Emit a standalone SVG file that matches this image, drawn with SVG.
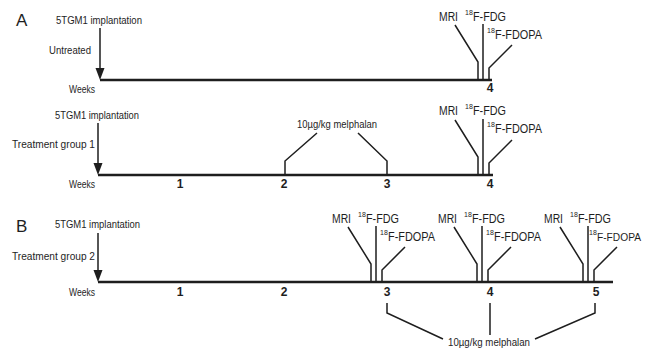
<svg xmlns="http://www.w3.org/2000/svg" width="647" height="354" viewBox="0 0 647 354">
<style>
  text { font-family: "Liberation Sans", Arial, sans-serif; fill: #1e1e1e; }
  .lbl { font-size: 11px; }
  .wk { font-size: 10px; }
  .num { font-size: 12px; font-weight: bold; text-anchor: middle; }
  .panel { font-size: 17px; }
  .img { font-size: 12px; }
  .sup { font-size: 7px; }
  .axis { stroke: #1e1e1e; stroke-width: 2.6; fill: none; }
  .ln { stroke: #1e1e1e; stroke-width: 1.5; fill: none; }
  .head { fill: #1e1e1e; }
</style>
<defs>
  <g id="cluster">
    <polyline class="ln" points="-28,-55 -5,-18 -5,0"/>
    <line class="ln" x1="0" y1="-56" x2="0" y2="0"/>
    <polyline class="ln" points="29,-35 6,-12 6,0"/>
  </g>
</defs>

<g id="panel-A-untreated">
  <text class="panel" x="16" y="26">A</text>
  <text class="lbl" x="56" y="24" textLength="86" lengthAdjust="spacingAndGlyphs">5TGM1 implantation</text>
  <text class="lbl" x="49" y="54" textLength="42" lengthAdjust="spacingAndGlyphs">Untreated</text>
  <text class="wk" x="69" y="93" textLength="26" lengthAdjust="spacingAndGlyphs">Weeks</text>
  <text class="num" x="490" y="92">4</text>
</g>

<g id="panel-A-group1">
  <text class="lbl" x="55" y="119" textLength="84" lengthAdjust="spacingAndGlyphs">5TGM1 implantation</text>
  <text class="lbl" x="12" y="148" textLength="83" lengthAdjust="spacingAndGlyphs">Treatment group 1</text>
  <text class="wk" x="69" y="188" textLength="26" lengthAdjust="spacingAndGlyphs">Weeks</text>
  <text class="num" x="180" y="188">1</text>
  <text class="num" x="284" y="188">2</text>
  <text class="num" x="387" y="188">3</text>
  <text class="num" x="490" y="188">4</text>
  <text class="lbl" x="297" y="128" textLength="80" lengthAdjust="spacingAndGlyphs">10µg/kg melphalan</text>
</g>

<g id="panel-B-group2">
  <text class="panel" x="16" y="232">B</text>
  <text class="lbl" x="55" y="228" textLength="85" lengthAdjust="spacingAndGlyphs">5TGM1 implantation</text>
  <text class="lbl" x="12" y="260" textLength="83" lengthAdjust="spacingAndGlyphs">Treatment group 2</text>
  <text class="wk" x="69" y="296" textLength="26" lengthAdjust="spacingAndGlyphs">Weeks</text>
  <text class="num" x="180" y="296">1</text>
  <text class="num" x="284" y="296">2</text>
  <text class="num" x="387" y="296">3</text>
  <text class="num" x="490" y="296">4</text>
  <text class="num" x="596" y="296">5</text>
  <text class="lbl" x="448" y="346" textLength="82" lengthAdjust="spacingAndGlyphs">10µg/kg melphalan</text>
</g>

<g id="imaging-A1">
  <text class="img" x="439" y="21" textLength="19" lengthAdjust="spacingAndGlyphs">MRI</text>
  <text class="sup" x="465" y="15">18</text>
  <text class="img" x="473" y="21" textLength="33" lengthAdjust="spacingAndGlyphs">F-FDG</text>
  <text class="sup" x="487" y="33">18</text>
  <text class="img" x="495" y="39" textLength="47" lengthAdjust="spacingAndGlyphs">F-FDOPA</text>
</g>
<g id="imaging-A2">
  <text class="img" x="439" y="115" textLength="19" lengthAdjust="spacingAndGlyphs">MRI</text>
  <text class="sup" x="465" y="109">18</text>
  <text class="img" x="473" y="115" textLength="33" lengthAdjust="spacingAndGlyphs">F-FDG</text>
  <text class="sup" x="487" y="127">18</text>
  <text class="img" x="495" y="133" textLength="47" lengthAdjust="spacingAndGlyphs">F-FDOPA</text>
</g>
<g id="imaging-B3">
  <text class="img" x="332" y="223" textLength="19" lengthAdjust="spacingAndGlyphs">MRI</text>
  <text class="sup" x="358" y="217">18</text>
  <text class="img" x="366" y="223" textLength="33" lengthAdjust="spacingAndGlyphs">F-FDG</text>
  <text class="sup" x="380" y="235">18</text>
  <text class="img" x="388" y="241" textLength="47" lengthAdjust="spacingAndGlyphs">F-FDOPA</text>
</g>
<g id="imaging-B4">
  <text class="img" x="438" y="223" textLength="19" lengthAdjust="spacingAndGlyphs">MRI</text>
  <text class="sup" x="464" y="217">18</text>
  <text class="img" x="472" y="223" textLength="33" lengthAdjust="spacingAndGlyphs">F-FDG</text>
  <text class="sup" x="486" y="235">18</text>
  <text class="img" x="494" y="241" textLength="47" lengthAdjust="spacingAndGlyphs">F-FDOPA</text>
</g>
<g id="imaging-B5">
  <text class="img" x="544" y="223" textLength="19" lengthAdjust="spacingAndGlyphs">MRI</text>
  <text class="sup" x="570" y="217">18</text>
  <text class="img" x="578" y="223" textLength="33" lengthAdjust="spacingAndGlyphs">F-FDG</text>
  <text class="sup" x="589" y="235">18</text>
  <text class="img" x="597" y="241" textLength="44" lengthAdjust="spacingAndGlyphs" style="font-size:11px">F-FDOPA</text>
</g>

<g id="connectors">
  <line class="axis" x1="100" y1="80" x2="492" y2="80"/>
  <line class="axis" x1="98" y1="175" x2="493" y2="175"/>
  <line class="axis" x1="98" y1="282" x2="613" y2="282"/>
  <line class="ln" x1="100" y1="28" x2="100" y2="70"/>
  <polygon class="head" points="95.5,68 104.5,68 100,80"/>
  <line class="ln" x1="98" y1="123" x2="98" y2="165"/>
  <polygon class="head" points="93.5,163 102.5,163 98,175"/>
  <line class="ln" x1="98" y1="233" x2="98" y2="272"/>
  <polygon class="head" points="93.5,270 102.5,270 98,282"/>
  <use href="#cluster" x="483" y="80"/>
  <use href="#cluster" x="483" y="175"/>
  <use href="#cluster" x="376" y="282"/>
  <use href="#cluster" x="482" y="282"/>
  <use href="#cluster" x="588" y="282"/>
  <polyline class="ln" points="285,175 285,161 317,133"/>
  <polyline class="ln" points="387,175 387,161 358,133"/>
  <polyline class="ln" points="387,303 387,313 443,339"/>
  <line class="ln" x1="490" y1="303" x2="490" y2="335"/>
  <polyline class="ln" points="595,303 595,313 535,339"/>
</g>
</svg>
